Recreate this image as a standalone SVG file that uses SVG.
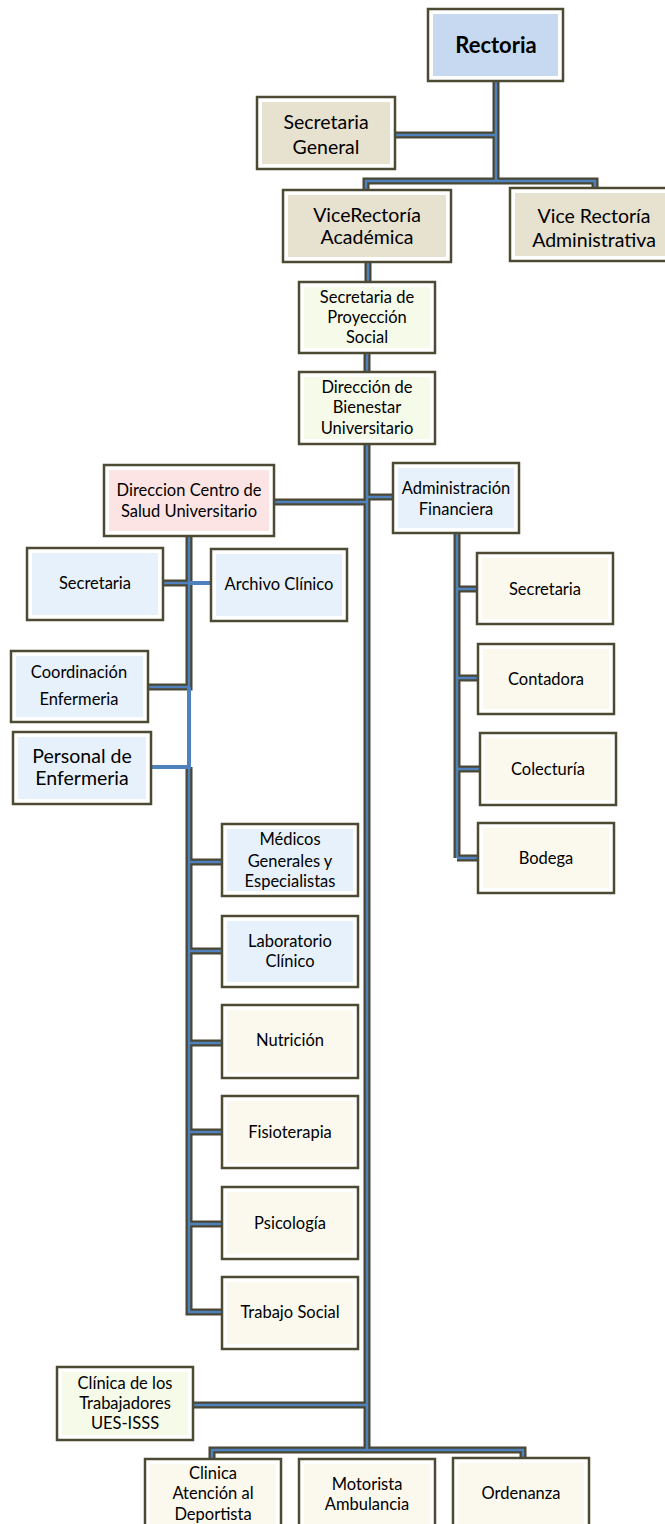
<svg xmlns="http://www.w3.org/2000/svg" width="665" height="1524" viewBox="0 0 665 1524">
  <style>
    .frame { fill: #ffffff; stroke: #4d4a33; stroke-width: 2.5; }
    .f-blue { fill: #c6d9f1; }
    .f-taupe { fill: #e7e1cf; }
    .f-lime { fill: #f6fae8; }
    .f-pink { fill: #fce4e4; }
    .f-sky { fill: #e7f1fc; }
    .f-cream { fill: #fbf8ee; }
    .t { font-family: Lato, "Liberation Sans", sans-serif; font-size: 16.5px; text-anchor: middle; fill: #000000; }
    .lg { font-size: 19.5px; }
    .b { font-weight: bold; font-size: 22px; }
    .link-out { fill: none; stroke: #4a4733; stroke-width: 7; stroke-linejoin: miter; }
    .link-in { fill: none; stroke: #4f81bd; stroke-width: 2.5; stroke-linejoin: miter; }
    .link-plain { fill: none; stroke: #4f81bd; stroke-width: 4; }
  </style>
  <defs>
    <path id="wires" d="M496 81 V181 M395 135 H496 M366 192 V181 H595 V190 M368 262 V284 M367 353 V374 M367 444 V1450 M274 502 H367 M367 497 H395 M193 1405 H367 M212 1460 V1450 H523 V1460 M457 533 V858 M457 589 H479 M457 678 H480 M457 769 H482 M457 858 H480 M189 536 V687 H148 M163 583 H189 M189 767 V1312 H224 M189 862 H224 M189 951 H224 M189 1043 H224 M189 1132 H224 M189 1224 H224"/>
  </defs>

  <g id="connectors">
    <use href="#wires" class="link-out"/>
    <use href="#wires" class="link-in"/>
    <path class="link-plain" d="M189 583 H211 M189 687 V767 H151"/>
  </g>

  <g id="rectoria">
    <rect class="frame" x="428" y="9" width="135" height="72"/>
    <rect class="f-blue" x="433" y="14" width="125" height="62"/>
    <text class="t b" x="496" y="53">Rectoria</text>
  </g>

  <g id="secretaria-general">
    <rect class="frame" x="257" y="97" width="138" height="72"/>
    <rect class="f-taupe" x="262" y="102" width="128" height="62"/>
    <text class="t lg" x="326" y="129">Secretaria</text>
    <text class="t lg" x="326" y="154">General</text>
  </g>

  <g id="vicerrectoria-academica">
    <rect class="frame" x="283" y="190" width="168" height="72"/>
    <rect class="f-taupe" x="288" y="195" width="158" height="62"/>
    <text class="t lg" x="367" y="222">ViceRectoría</text>
    <text class="t lg" x="367" y="244">Académica</text>
  </g>

  <g id="vicerrectoria-administrativa">
    <rect class="frame" x="510" y="188" width="168" height="73"/>
    <rect class="f-taupe" x="515" y="193" width="158" height="63"/>
    <text class="t lg" x="594" y="223">Vice Rectoría</text>
    <text class="t lg" x="594" y="247">Administrativa</text>
  </g>

  <g id="secretaria-proyeccion">
    <rect class="frame" x="299" y="282" width="136" height="71"/>
    <rect class="f-lime" x="304" y="287" width="126" height="61"/>
    <text class="t" x="367" y="303">Secretaria de</text>
    <text class="t" x="367" y="323">Proyección</text>
    <text class="t" x="367" y="343">Social</text>
  </g>

  <g id="bienestar">
    <rect class="frame" x="299" y="372" width="136" height="72"/>
    <rect class="f-lime" x="304" y="377" width="126" height="62"/>
    <text class="t" x="367" y="393">Dirección de</text>
    <text class="t" x="367" y="413">Bienestar</text>
    <text class="t" x="367" y="434">Universitario</text>
  </g>

  <g id="centro-salud">
    <rect class="frame" x="104" y="465" width="170" height="71"/>
    <rect class="f-pink" x="109" y="470" width="160" height="61"/>
    <text class="t" x="189" y="496">Direccion Centro de</text>
    <text class="t" x="189" y="517">Salud Universitario</text>
  </g>

  <g id="administracion-financiera">
    <rect class="frame" x="393" y="463" width="126" height="70"/>
    <rect class="f-sky" x="398" y="468" width="116" height="60"/>
    <text class="t" x="456" y="494">Administración</text>
    <text class="t" x="456" y="515">Financiera</text>
  </g>

  <g id="af-secretaria">
    <rect class="frame" x="477" y="553" width="136" height="71"/>
    <rect class="f-cream" x="482" y="558" width="126" height="61"/>
    <text class="t" x="545" y="595">Secretaria</text>
  </g>

  <g id="contadora">
    <rect class="frame" x="478" y="644" width="136" height="70"/>
    <rect class="f-cream" x="483" y="649" width="126" height="60"/>
    <text class="t" x="546" y="685">Contadora</text>
  </g>

  <g id="colecturia">
    <rect class="frame" x="480" y="733" width="136" height="72"/>
    <rect class="f-cream" x="485" y="738" width="126" height="62"/>
    <text class="t" x="548" y="775">Colecturía</text>
  </g>

  <g id="bodega">
    <rect class="frame" x="478" y="823" width="136" height="70"/>
    <rect class="f-cream" x="483" y="828" width="126" height="60"/>
    <text class="t" x="546" y="864">Bodega</text>
  </g>

  <g id="cs-secretaria">
    <rect class="frame" x="27" y="548" width="136" height="72"/>
    <rect class="f-sky" x="32" y="553" width="126" height="62"/>
    <text class="t" x="95" y="589">Secretaria</text>
  </g>

  <g id="archivo-clinico">
    <rect class="frame" x="211" y="549" width="136" height="72"/>
    <rect class="f-sky" x="216" y="554" width="126" height="62"/>
    <text class="t" x="279" y="590">Archivo Clínico</text>
  </g>

  <g id="coordinacion-enfermeria">
    <rect class="frame" x="11" y="651" width="137" height="71"/>
    <rect class="f-sky" x="16" y="656" width="127" height="61"/>
    <text class="t" x="79" y="678">Coordinación</text>
    <text class="t" x="79" y="705">Enfermeria</text>
  </g>

  <g id="personal-enfermeria">
    <rect class="frame" x="13" y="732" width="138" height="72"/>
    <rect class="f-sky" x="18" y="737" width="128" height="62"/>
    <text class="t lg" x="82" y="763">Personal de</text>
    <text class="t lg" x="82" y="785">Enfermeria</text>
  </g>

  <g id="medicos">
    <rect class="frame" x="222" y="824" width="136" height="72"/>
    <rect class="f-sky" x="227" y="829" width="126" height="62"/>
    <text class="t" x="290" y="845">Médicos</text>
    <text class="t" x="290" y="867">Generales y</text>
    <text class="t" x="290" y="887">Especialistas</text>
  </g>

  <g id="laboratorio">
    <rect class="frame" x="222" y="916" width="136" height="71"/>
    <rect class="f-sky" x="227" y="921" width="126" height="61"/>
    <text class="t" x="290" y="947">Laboratorio</text>
    <text class="t" x="290" y="967">Clínico</text>
  </g>

  <g id="nutricion">
    <rect class="frame" x="222" y="1005" width="136" height="73"/>
    <rect class="f-cream" x="227" y="1010" width="126" height="63"/>
    <text class="t" x="290" y="1046">Nutrición</text>
  </g>

  <g id="fisioterapia">
    <rect class="frame" x="222" y="1096" width="136" height="72"/>
    <rect class="f-cream" x="227" y="1101" width="126" height="62"/>
    <text class="t" x="290" y="1138">Fisioterapia</text>
  </g>

  <g id="psicologia">
    <rect class="frame" x="222" y="1187" width="136" height="72"/>
    <rect class="f-cream" x="227" y="1192" width="126" height="62"/>
    <text class="t" x="290" y="1229">Psicología</text>
  </g>

  <g id="trabajo-social">
    <rect class="frame" x="222" y="1277" width="136" height="72"/>
    <rect class="f-cream" x="227" y="1282" width="126" height="62"/>
    <text class="t" x="290" y="1318">Trabajo Social</text>
  </g>

  <g id="clinica-trabajadores">
    <rect class="frame" x="57" y="1367" width="136" height="73"/>
    <rect class="f-lime" x="62" y="1372" width="126" height="63"/>
    <text class="t" x="125" y="1389">Clínica de los</text>
    <text class="t" x="125" y="1409">Trabajadores</text>
    <text class="t" x="125" y="1429">UES-ISSS</text>
  </g>

  <g id="clinica-deportista">
    <rect class="frame" x="145" y="1459" width="136" height="72"/>
    <rect class="f-cream" x="150" y="1464" width="126" height="62"/>
    <text class="t" x="213" y="1479">Clinica</text>
    <text class="t" x="213" y="1499">Atención al</text>
    <text class="t" x="213" y="1520">Deportista</text>
  </g>

  <g id="motorista">
    <rect class="frame" x="299" y="1459" width="136" height="72"/>
    <rect class="f-cream" x="304" y="1464" width="126" height="62"/>
    <text class="t" x="367" y="1490">Motorista</text>
    <text class="t" x="367" y="1510">Ambulancia</text>
  </g>

  <g id="ordenanza">
    <rect class="frame" x="453" y="1458" width="136" height="72"/>
    <rect class="f-cream" x="458" y="1463" width="126" height="62"/>
    <text class="t" x="521" y="1499">Ordenanza</text>
  </g>
</svg>
